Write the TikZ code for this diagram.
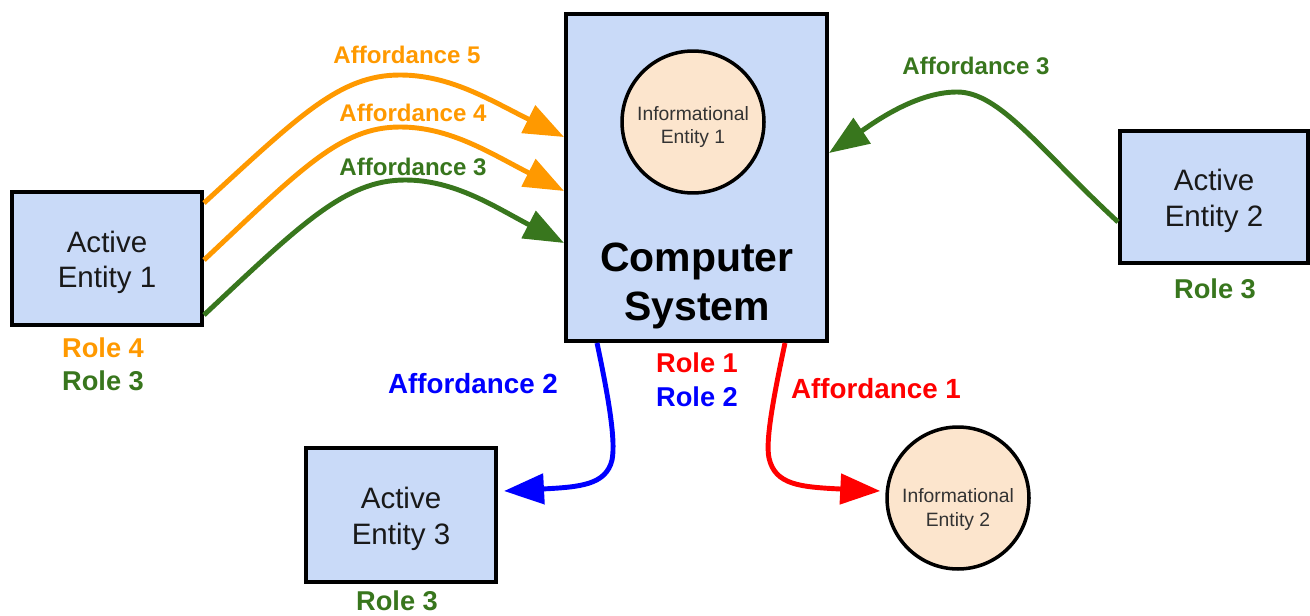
\documentclass[tikz,border=0pt]{standalone}
\usepackage{fontspec}
\setmainfont{Liberation Sans}
\usetikzlibrary{arrows.meta}
\definecolor{boxblue}{HTML}{C9DAF8}
\definecolor{infofill}{HTML}{FCE5CD}
\definecolor{aorange}{HTML}{FF9900}
\definecolor{agreen}{HTML}{38761D}
\definecolor{ablue}{HTML}{0000FF}
\definecolor{ared}{HTML}{FF0000}
\newcommand{\topstrut}[1]{\rule{0pt}{#1}}
\begin{document}
\begin{tikzpicture}[x=0.02cm,y=-0.02cm,
 entity/.style={draw=black,line width=2.3pt,fill=boxblue,minimum width=3.8cm,minimum height=2.66cm,align=center,inner sep=0pt,font=\fontsize{16.8}{20}\selectfont,text=black!90},
 info/.style={circle,draw=black,line width=2pt,fill=infofill,minimum size=2.84cm,inner sep=0pt,align=center,font=\fontsize{11}{13.6}\selectfont,text=black!80},
 lbl/.style={font=\bfseries\fontsize{15.5}{19.5}\selectfont,align=center,inner sep=0pt},
 afl/.style={font=\bfseries\fontsize{13.7}{16}\selectfont,inner sep=0pt},
 afb/.style={font=\bfseries\fontsize{15.8}{18}\selectfont,inner sep=0pt},
 conn/.style={line width=2.8pt,-{Triangle[length=0.8cm,width=0.6cm]}},
]
\useasboundingbox (0,0) rectangle (1310,615);

% nodes
\node[entity] (ae1) at (107,258.5) {\topstrut{16.6pt}Active\\Entity 1};
\node[entity,minimum width=5.22cm,minimum height=6.54cm] (cs) at (696.5,177.5) {};
\node[info] (ie1) at (693,122) {\topstrut{13.7pt}Informational\\Entity 1};
\node[align=center,inner sep=0pt,font=\bfseries\fontsize{23.3}{27.5}\selectfont] (cstext) at (697,286) {Computer\\System};
\node[entity,minimum width=3.76cm,minimum height=2.64cm] (ae2) at (1214,197) {\topstrut{16.6pt}Active\\Entity 2};
\node[entity,minimum height=2.68cm] (ae3) at (401,515) {\topstrut{16.6pt}Active\\Entity 3};
\node[info] (ie2) at (958,498) {\topstrut{21.5pt}Informational\\Entity 2};

% role labels
\node[lbl,text=aorange] (r4a) at (103,348) {Role 4};
\node[lbl,text=agreen] (r3a) at (103,381) {Role 3};
\node[lbl,text=ared] (r1) at (697,363) {Role 1};
\node[lbl,text=ablue] (r2) at (697,397) {Role 2};
\node[lbl,text=agreen] (r3b) at (1215,289) {Role 3};
\node[lbl,text=agreen] (r3c) at (397,601) {Role 3};

% affordance labels
\node[afl,text=aorange] (af5) at (407,55) {Affordance 5};
\node[afl,text=aorange] (af4) at (413,113) {Affordance 4};
\node[afl,text=agreen] (af3a) at (413,167) {Affordance 3};
\node[afl,text=agreen] (af3b) at (976,66) {Affordance 3};
\node[afb,text=ablue] (af2) at (473,384) {Affordance 2};
\node[afb,text=ared] (af1) at (876,389) {Affordance 1};

% connectors
\draw[conn,aorange] ([yshift=1.11cm]ae1.east) .. controls (300,115) and (340,75) .. (400,75) .. controls (450,75) and (490,100) .. ([yshift=0.81cm]cs.west);
\draw[conn,aorange] ([yshift=-0.03cm]ae1.east) .. controls (300,170) and (340,127) .. (400,127) .. controls (450,127) and (490,153) .. ([yshift=-0.27cm]cs.west);
\draw[conn,agreen] ([yshift=-1.13cm]ae1.east) .. controls (300,225) and (345,180) .. (405,180) .. controls (455,180) and (495,207) .. ([yshift=-1.31cm]cs.west);
\draw[conn,agreen] ([yshift=-0.5cm]ae2.west) .. controls (1040,150) and (1000,92) .. (957,92) .. controls (915,92) and (872,124) .. ([yshift=0.49cm]cs.east);
\draw[conn,ablue] ([xshift=-1.99cm]cs.south) .. controls (608,395) and (616,440) .. (612,460) .. controls (606,485) and (580,487) .. ([xshift=0.12cm,yshift=0.48cm]ae3.east);
\draw[conn,ared] ([xshift=1.77cm]cs.south) .. controls (775,390) and (765,440) .. (769,458) .. controls (775,485) and (800,487) .. ([xshift=-0.1cm,yshift=0.14cm]ie2.west);
\end{tikzpicture}
\end{document}
